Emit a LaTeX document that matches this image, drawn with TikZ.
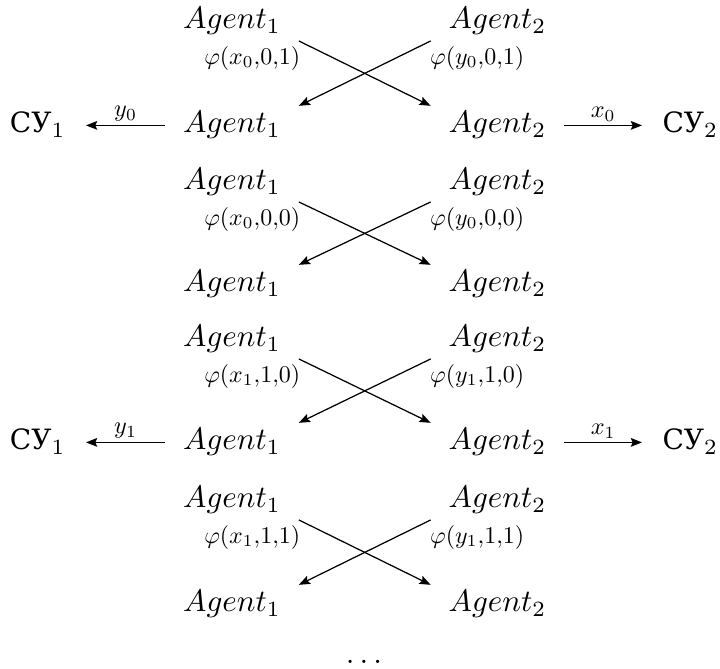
\documentclass[tikz,border=0pt]{standalone}
\usepackage{fontspec}
\newfontfamily\cyrserif{DejaVu Serif}[Scale=0.9]
\usetikzlibrary{arrows.meta}
\begin{document}
\begin{tikzpicture}[x=0.3215pt,y=-0.3215pt,
  ag/.style={inner xsep=5.6pt, inner ysep=1.7pt, anchor=base},
  su/.style={inner xsep=6.4pt, inner ysep=1.7pt},
  arr/.style={-{Stealth[length=3.6pt,width=2.8pt,inset=0.6pt]}, line width=0.4pt},
  phiL/.style={pos=0, anchor=north east, inner sep=0pt, xshift=0.6pt, yshift=-1.6pt, scale=0.77},
  phiR/.style={pos=0, anchor=north west, inner sep=0pt, xshift=-0.3pt, yshift=-1.6pt, scale=0.77},
  hl/.style={midway, above, inner sep=1.5pt, scale=0.78}]
\useasboundingbox (0,0) rectangle (720,669);

% block 1
\node[ag] (a1) at (232,29) {$Agent_1$};
\node[ag] (b1) at (497.5,29) {$Agent_2$};
\node[ag] (a2) at (232,133) {$Agent_1$};
\node[ag] (b2) at (497.5,133) {$Agent_2$};
% block 2
\node[ag] (a3) at (232,190) {$Agent_1$};
\node[ag] (b3) at (497.5,190) {$Agent_2$};
\node[ag] (a4) at (232,292) {$Agent_1$};
\node[ag] (b4) at (497.5,292) {$Agent_2$};
% block 3
\node[ag] (a5) at (232,347) {$Agent_1$};
\node[ag] (b5) at (497.5,347) {$Agent_2$};
\node[ag] (a6) at (232,450) {$Agent_1$};
\node[ag] (b6) at (497.5,450) {$Agent_2$};
% block 4
\node[ag] (a7) at (232,508) {$Agent_1$};
\node[ag] (b7) at (497.5,508) {$Agent_2$};
\node[ag] (a8) at (232,612) {$Agent_1$};
\node[ag] (b8) at (497.5,612) {$Agent_2$};

% control units
\node[su, anchor=base east] (c1) at (86,133) {{\cyrserif СУ}$_1$};
\node[su, anchor=base west] (d1) at (642,133) {{\cyrserif СУ}$_2$};
\node[su, anchor=base east] (c2) at (86,450) {{\cyrserif СУ}$_1$};
\node[su, anchor=base west] (d2) at (642,450) {{\cyrserif СУ}$_2$};

\node[anchor=base] (dots) at (364,664) {$\ldots$};

% crossings
\draw[arr] (a1.south east) -- (b2.north west) node[phiL] (l1) {$\varphi(x_0{,}0{,}1)$};
\draw[arr] (b1.south west) -- (a2.north east) node[phiR] (m1) {$\varphi(y_0{,}0{,}1)$};
\draw[arr] (a3.south east) -- (b4.north west) node[phiL] (l2) {$\varphi(x_0{,}0{,}0)$};
\draw[arr] (b3.south west) -- (a4.north east) node[phiR] (m2) {$\varphi(y_0{,}0{,}0)$};
\draw[arr] (a5.south east) -- (b6.north west) node[phiL] (l3) {$\varphi(x_1{,}1{,}0)$};
\draw[arr] (b5.south west) -- (a6.north east) node[phiR] (m3) {$\varphi(y_1{,}1{,}0)$};
\draw[arr] (a7.south east) -- (b8.north west) node[phiL] (l4) {$\varphi(x_1{,}1{,}1)$};
\draw[arr] (b7.south west) -- (a8.north east) node[phiR] (m4) {$\varphi(y_1{,}1{,}1)$};

% outputs
\draw[arr] (a2.west) -- (c1.east |- a2.west) node[hl] (h1) {$y_0$};
\draw[arr] (b2.east) -- (d1.west |- b2.east) node[hl] (k1) {$x_0$};
\draw[arr] (a6.west) -- (c2.east |- a6.west) node[hl] (h2) {$y_1$};
\draw[arr] (b6.east) -- (d2.west |- b6.east) node[hl] (k2) {$x_1$};
\end{tikzpicture}
\end{document}
